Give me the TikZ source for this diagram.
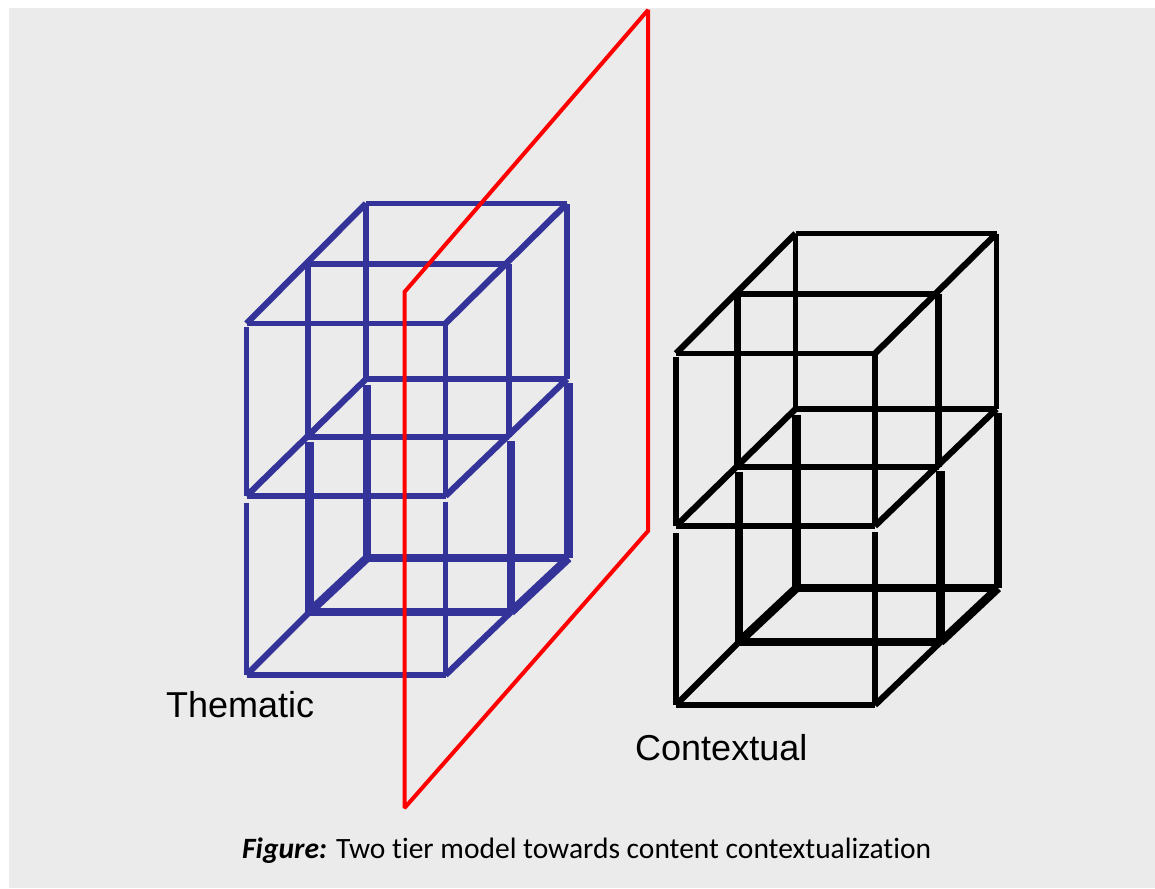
\documentclass[tikz,border=0pt]{standalone}
\usepackage{fontspec}
\setmainfont{Liberation Sans}
\newfontfamily\capfont[Ligatures=NoCommon]{Carlito}
\definecolor{panelgray}{HTML}{EBEBEB}
\definecolor{tierblue}{HTML}{333399}
\tikzset {
  % edges of the boxes
  thin edge/.style = {
    line width = 5.6pt
  },
  mid edge/.style = {
    line width = 6.2pt
  },
  thick edge/.style = {
    line width = 8.6pt
  },
  % cutting plane
  plane/.style = {
    draw = red,
    line width = 4pt,
    miter limit = 2
  },
  tier label/.style = {
    anchor = base west,
    inner sep = 0,
    font = \fontsize{36}{40}\selectfont
  },
  figure caption/.style = {
    anchor = base west,
    inner sep = 0,
    font = \capfont\fontsize{29.5}{32}\selectfont
  }
}
% one box, two levels high, given in the coordinates of the left one
\newcommand{\tierbox}{
  \coordinate (back-top-l) at (366,203.5);
  \coordinate (back-top-r) at (567,203.5);
  \coordinate (side-top-l) at (308,264);
  \coordinate (side-top-r) at (509,264);
  \coordinate (front-top-l) at (246.5,323.5);
  \coordinate (front-top-r) at (445.5,323.5);
  \coordinate (back-mid-l) at (366,379);
  \coordinate (back-mid-r) at (567,379);
  \coordinate (side-mid-l) at (308,437);
  \coordinate (side-mid-r) at (509,437);
  \coordinate (front-mid-l) at (246.5,496);
  \coordinate (front-mid-r) at (445.5,496);
  \coordinate (back-low-l) at (367,558);
  \coordinate (back-low-r) at (568.5,558);
  \coordinate (side-low-l) at (309.5,612);
  \coordinate (side-low-r) at (511,612);
  \coordinate (front-low-l) at (246.5,675);
  \coordinate (front-low-r) at (445.5,675);

  % upper level
  \draw[thin edge] (back-top-l) -- (back-top-r);
  \draw[thin edge] (side-top-l) -- (side-top-r);
  \draw[thin edge] (front-top-l) -- (front-top-r);
  \draw[mid edge] (back-top-l) -- (front-top-l);
  \draw[mid edge] (back-top-r) -- (front-top-r);
  \draw[thin edge] (back-top-l) -- (back-mid-l);
  \draw[thin edge] (back-top-r) -- (back-mid-r);
  \draw[mid edge] (side-top-l) -- (side-mid-l);
  \draw[mid edge] (side-top-r) -- (side-mid-r);
  \draw[thin edge, shorten <=3pt] (front-top-l) -- (front-mid-l);
  \draw[thin edge] (front-top-r) -- (front-mid-r);

  % middle level
  \draw[thin edge] (back-mid-l) -- (back-mid-r);
  \draw[thin edge] (side-mid-l) -- (side-mid-r);
  \draw[thin edge] (front-mid-l) -- (front-mid-r);
  \draw[mid edge] (back-mid-l) -- (front-mid-l);
  \draw[mid edge] (back-mid-r) -- (front-mid-r);

  % lower level
  \draw[thick edge, shorten <=6pt] (back-mid-l -| back-low-l) -- (back-low-l);
  \draw[thick edge, shorten <=4pt] (back-mid-r -| back-low-r) -- (back-low-r);
  \draw[thick edge, shorten <=5pt] (side-mid-l -| side-low-l) -- (side-low-l);
  \draw[thick edge, shorten <=4pt] (side-mid-r -| side-low-r) -- (side-low-r);
  \draw[thin edge, shorten <=7pt] (front-mid-l) -- (front-low-l);
  \draw[thin edge, shorten <=6pt] (front-mid-r) -- (front-low-r);
  \draw[thick edge] (back-low-l) -- (back-low-r);
  \draw[thick edge] (side-low-l) -- (side-low-r);
  \draw[thick edge] (back-low-l) -- (side-low-l);
  \draw[thick edge] (back-low-r) -- (side-low-r);
  \draw[mid edge] (side-low-l) -- (front-low-l);
  \draw[mid edge] (side-low-r) -- (front-low-r);
  \draw[thin edge] (front-low-l) -- (front-low-r);
}

\begin{document}
\begin{tikzpicture}[x=1pt, y=-1pt]
    \useasboundingbox (0,0) rectangle (1155,888);
    \fill[panelgray] (9,8) rectangle (1155,888);

    \begin{scope}[draw=tierblue]
      \tierbox
    \end{scope}
    \begin{scope}[draw=black, shift={(429.5,30)}]
      \tierbox
    \end{scope}

    \coordinate (plane-a) at (404.5,292);
    \coordinate (plane-b) at (648,10);
    \coordinate (plane-c) at (648,531);
    \coordinate (plane-d) at (404.5,808);
    \draw[plane] (plane-a)
    -- (plane-b)
    -- (plane-c)
    -- (plane-d)
    -- cycle;

    \node[tier label] (thematic) at (166,717) {Thematic};
    \node[tier label] (contextual) at (635,760) {Contextual};
    \node[figure caption] (caption) at (242,858)
    {\textbf{\textit{Figure:}} Two tier model towards content contextualization};
  \end{tikzpicture}
\end{document}
